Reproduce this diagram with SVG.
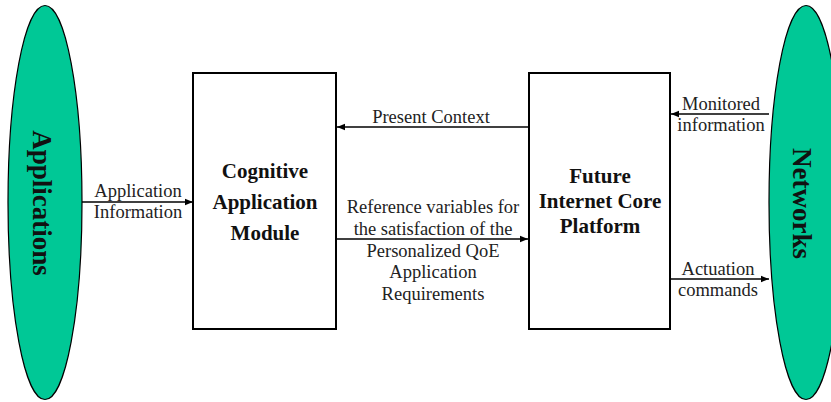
<svg xmlns="http://www.w3.org/2000/svg" width="831" height="402" viewBox="0 0 831 402">
<style>
.ell{fill:#00c896;stroke:#000;stroke-width:1.2}
.box{fill:#fff;stroke:#000;stroke-width:2}
.big{font-family:"Liberation Serif",serif;font-weight:bold;font-size:27px;fill:#111}
.node{font-family:"Liberation Serif",serif;font-weight:bold;font-size:21px;fill:#111;text-anchor:middle}
.lbl{font-family:"Liberation Serif",serif;font-size:18.5px;fill:#222;text-anchor:middle}
.con{stroke:#000;stroke-width:1.3;fill:none;marker-end:url(#ah)}
</style>
<defs>
<marker id="ah" viewBox="0 0 10 10" refX="10" refY="5" markerWidth="8" markerHeight="8" markerUnits="userSpaceOnUse" orient="auto">
<path d="M0,1 L10,5 L0,9 z" fill="#000"/>
</marker>
</defs>
<rect width="831" height="402" fill="#fff"/>
<g id="applications">
<ellipse class="ell" cx="45" cy="202.5" rx="37" ry="197"/>
<text class="big" transform="translate(33,203) rotate(90)" text-anchor="middle">Applications</text>
</g>
<g id="networks">
<ellipse class="ell" cx="806" cy="202.5" rx="37" ry="197"/>
<text class="big" transform="translate(793,203.5) rotate(90)" text-anchor="middle">Networks</text>
</g>
<g id="cognitive">
<rect class="box" x="193" y="73" width="143" height="256"/>
<text class="node" x="265" y="178">Cognitive</text>
<text class="node" x="265" y="209">Application</text>
<text class="node" x="265" y="240">Module</text>
</g>
<g id="platform">
<rect class="box" x="529" y="73" width="141" height="256"/>
<text class="node" x="600" y="183">Future</text>
<text class="node" x="600" y="208">Internet Core</text>
<text class="node" x="600" y="233">Platform</text>
</g>
<g id="connectors">
<line class="con" x1="82" y1="202" x2="193" y2="202"/>
<line class="con" x1="528" y1="127" x2="337" y2="127"/>
<line class="con" x1="337" y1="239" x2="528" y2="239"/>
<line class="con" x1="769" y1="114" x2="671" y2="114"/>
<line class="con" x1="671" y1="279" x2="769" y2="279"/>
<text class="lbl" x="138" y="197">Application</text>
<text class="lbl" x="138" y="218">Information</text>
<text class="lbl" x="431" y="123">Present Context</text>
<text class="lbl" x="433" y="213">Reference variables for</text>
<text class="lbl" x="433" y="235">the satisfaction of the</text>
<text class="lbl" x="433" y="257">Personalized QoE</text>
<text class="lbl" x="433" y="278">Application</text>
<text class="lbl" x="433" y="300">Requirements</text>
<text class="lbl" x="721" y="110">Monitored</text>
<text class="lbl" x="721" y="131">information</text>
<text class="lbl" x="718" y="275">Actuation</text>
<text class="lbl" x="718" y="296">commands</text>
</g>
</svg>
